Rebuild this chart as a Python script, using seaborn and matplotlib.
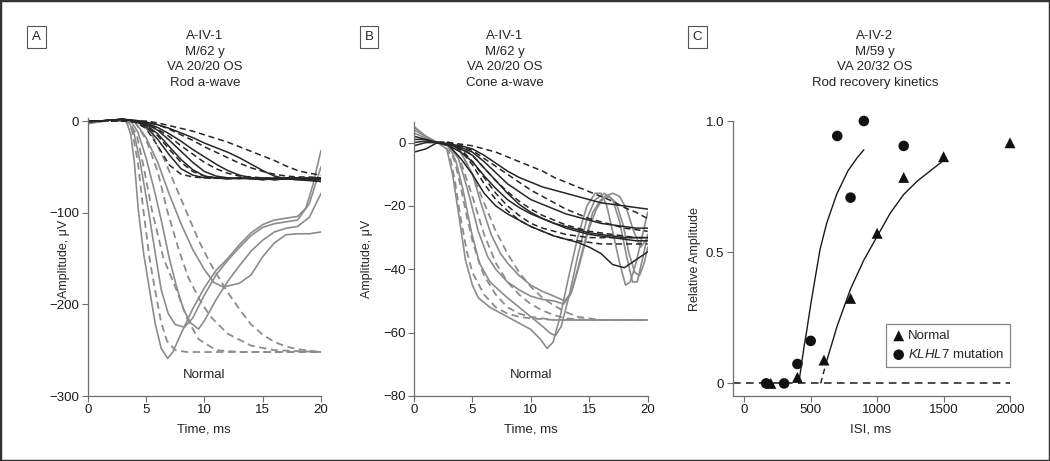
import matplotlib
matplotlib.use("Agg")
import matplotlib.pyplot as plt
from matplotlib import font_manager
from matplotlib.patches import Rectangle
import seaborn as sns

# ---------------- Panel A: rod a-wave, A-IV-1 ----------------
rod_t = list(range(21))
rod_fit_t = list(range(2, 21))
rod_mut = [
    [0, 0, 1, 2, 0, -6, -20, -37, -52, -59, -62, -62, -63, -62, -63, -64, -62, -63, -62, -63, -62],
    [-1, 0, 1, 2, 0, -4, -14, -28, -42, -53, -60, -62, -63, -62, -63, -62, -64, -63, -62, -64, -63],
    [0, 0, 1, 2, 0, -3, -10, -21, -33, -45, -55, -60, -62, -63, -62, -64, -63, -62, -63, -63, -64],
    [-1, 0, 1, 2, 0, -2, -7, -14, -22, -31, -39, -47, -54, -59, -62, -63, -64, -63, -64, -65, -66],
    [0, 0, 1, 2, 1, -1, -4, -8, -13, -18, -24, -29, -34, -40, -47, -54, -60, -63, -64, -64, -66],
]
rod_mut_fit = [
    [0, 0, -1, -8, -27, -48, -58, -61, -62, -62.5, -62.5, -62.5, -62.5, -62.5, -62.5, -62.5, -62.5, -62.5, -62.5],
    [0, 0, -1, -5, -16, -31, -45, -55, -60, -62, -62.5, -62.5, -62.5, -62.5, -62.5, -62.5, -62.5, -62.5, -62.5],
    [0, 0, 0, -3, -9, -17, -27, -36, -45, -52, -57, -60, -61, -62, -62, -62, -62, -62, -62],
    [0, 0, 0, -1, -4, -9, -15, -21, -28, -34, -40, -46, -51, -55, -58, -60, -61, -61, -62],
    [0, 0, 0, 0, -2, -5, -8, -11, -15, -19, -23, -28, -33, -38, -43, -49, -54, -57, -59],
]
rod_norm_t = [
    [0, 2, 3.3, 3.7, 4.0, 4.34, 4.8, 5.3, 5.8, 6.3, 6.85, 7.3, 8, 9, 10, 11, 12, 13, 14, 15, 16, 17, 18, 18.7, 19.3, 20],
    [0, 2, 3.5, 4.0, 4.5, 5.2, 5.8, 6.3, 6.9, 7.5, 8.3, 9, 10, 11, 12, 13, 14, 15, 16, 17, 18, 19, 20],
    [0, 2, 3.7, 4.3, 5.0, 5.7, 6.34, 7.0, 7.6, 8.2, 8.8, 9.5, 10, 11, 12, 13, 14, 15, 16, 17, 18, 19, 20],
    [0, 2, 4, 5, 6, 7, 8, 9, 10, 10.8, 11.6, 12, 13, 14, 15, 16, 17, 18, 19, 20],
]
rod_norm = [
    [-2, 1, 0, -15, -45, -97, -145, -184, -222, -248, -259, -252, -232, -205, -182, -163, -150, -135, -122, -113, -108, -106, -104, -95, -70, -32],
    [-3, 1, 0, -15, -45, -97, -145, -184, -210, -222, -225, -215, -190, -168, -152, -138, -125, -116, -112, -110, -108, -90, -50],
    [-1, 1, 0, -12, -40, -75, -110, -150, -180, -205, -220, -227, -218, -195, -175, -158, -142, -130, -121, -117, -115, -105, -79],
    [-2, 1, 0, -18, -45, -80, -112, -140, -162, -176, -181, -180, -177, -168, -148, -133, -124, -123, -123, -121],
]
rod_norm_fit_t = [
    [2, 3.3, 3.8, 4.3, 4.77, 5.3, 5.77, 6.3, 6.8, 7.5, 8.5, 20],
    [2, 3.5, 4.2, 4.8, 5.5, 6.5, 7.6, 8.5, 9.5, 11, 13, 20],
    [2, 4, 5, 6, 6.8, 7.8, 8.6, 9.6, 10.5, 12, 14, 16, 20],
    [2, 4.5, 5.5, 6.5, 7.5, 8.4, 9.5, 10.5, 11.9, 13, 14, 15, 16, 17, 18, 20],
]
rod_norm_fit = [
    [0, 0, -10, -45, -97, -150, -184, -220, -240, -250, -252, -252],
    [0, 0, -15, -50, -97, -150, -184, -215, -238, -250, -252, -252],
    [0, 0, -20, -55, -97, -140, -170, -195, -213, -232, -245, -250, -252],
    [0, 0, -15, -40, -70, -97, -130, -155, -185, -205, -222, -233, -241, -246, -249, -252],
]

# ---------------- Panel B: cone a-wave, A-IV-1 ----------------
cone_t = list(range(21))
cone_fit_t = list(range(2, 21))
cone_mut = [
    [1, 1, 0, -0.5, -1, -2, -4, -6.5, -9, -11, -12.5, -14, -15, -16, -17, -18, -19, -19.5, -20, -20.5, -21],
    [-1, 0, 0, -0.5, -1.5, -3, -6, -9.5, -13, -15.5, -18, -19.5, -21, -22.5, -23.5, -24.5, -25.5, -26, -26.5, -27, -27],
    [2, 1, 0, -1, -3, -6, -10.5, -14.5, -18, -20.5, -22.5, -24, -25.5, -26.5, -27.5, -28.5, -29, -29.5, -30, -30, -30],
    [-3, -2, 0, -1, -5, -10, -16, -20, -22.5, -24.5, -26.5, -28, -29.5, -30.5, -31.5, -33, -35, -38.5, -39.5, -37, -34.5],
    [0, 0.5, 0, -0.5, -2, -4, -8, -12, -16, -19.5, -22, -24, -25.5, -27, -28, -29, -29.5, -30, -30.5, -31, -31],
]
cone_mut_fit = [
    [0, 0, -0.5, -1, -2, -3, -4.5, -6, -7.5, -9, -11, -12.5, -14, -15.5, -17, -18.5, -20.5, -22, -24],
    [0, 0, -1, -2.5, -5, -7.5, -10, -12.5, -15, -17, -19, -21, -22.5, -24, -25, -26, -27, -27.5, -28],
    [0, 0, -1.5, -4, -8, -12, -15.5, -18.5, -21, -23, -24.5, -26, -27, -28, -28.5, -29, -29.5, -30, -30],
    [0, 0, -2, -6, -11, -16, -20, -23, -25.5, -27, -28, -29, -29.5, -30, -30, -30, -30, -30, -30],
    [0, 0, -2.5, -7, -13, -18, -21.5, -24.5, -26.5, -28, -29.5, -30.5, -31, -31.5, -32, -32, -32, -32, -32],
]
cone_norm_t = [
    [0, 1, 2, 2.8, 3.3, 3.8, 4.4, 5, 5.5, 6.5, 8, 9, 10, 10.8, 11.4, 11.9, 12.5, 13.2, 14, 14.8, 15.5, 16, 16.5, 17, 17.6, 18.1, 18.5, 19, 19.5, 20],
    [0, 1, 2, 3, 3.6, 4.2, 4.9, 5.6, 6.5, 8, 9, 10, 11, 11.6, 12.1, 12.6, 13.3, 14, 14.8, 15.5, 16.3, 17, 17.6, 18.2, 18.7, 19.1, 19.6, 20],
    [0, 1, 2, 3, 3.8, 4.6, 5.5, 6.3, 7, 8, 9, 10, 11, 12, 12.8, 13.4, 14, 14.7, 15.3, 16, 16.7, 17.3, 17.9, 18.4, 18.9, 19.3, 19.7, 20],
    [0, 1, 2, 3, 4, 5, 5.8, 6.6, 7.4, 8, 9, 10, 11, 12, 12.9, 13.5, 14.2, 14.9, 15.6, 16.3, 17, 17.6, 18.2, 18.8, 19.4, 20],
]
cone_norm = [
    [5, 2, 0, -2, -10, -22, -37, -45, -49, -52, -55, -57, -59, -62, -65, -63, -55, -43, -30, -20, -16, -16, -20, -28, -38, -45, -44, -38, -30, -22],
    [4, 2, 0, -1, -6, -15, -28, -38, -44, -49, -52, -55, -58, -60, -61, -58, -48, -36, -24, -18, -16, -18, -25, -36, -44, -44, -36, -29],
    [3, 1.5, 0, -1, -5, -15, -28, -36, -40, -44, -46.5, -48.5, -49.5, -50, -51, -48, -40, -30, -22, -18, -17, -19, -26, -35, -41, -42, -38, -33],
    [5, 2, 0, 0, -3, -10, -20, -29, -35, -38, -42, -45, -47, -48.5, -50, -47, -38, -28, -21, -17, -16, -17, -21, -28, -33, -30],
]
cone_norm_fit_t = [
    [2, 2.5, 3, 3.5, 4, 4.5, 5, 6, 7, 8, 9, 10, 12, 20],
    [2, 2.8, 3.5, 4, 4.5, 5, 5.5, 6, 7, 8, 9, 10, 12, 20],
    [2, 3, 4, 5, 6, 7, 8, 9, 10, 11, 12, 13, 15, 20],
    [2, 3, 4, 5, 6, 7, 8, 9, 10, 11, 12, 13, 14, 16, 20],
]
cone_norm_fit = [
    [0, 0, -3, -12, -24, -34, -41, -48, -52, -54, -55, -55.5, -56, -56],
    [0, 0, -6, -14, -23, -31, -37, -42, -48, -52, -54, -55, -56, -56],
    [0, 0, -6, -17, -29, -38, -44, -48, -51, -53, -54.5, -55.5, -56, -56],
    [0, 0, -3, -10, -19, -28, -35, -41, -45.5, -49, -51.5, -53.5, -55, -56, -56],
]

# ---------------- Panel C: rod recovery kinetics, A-IV-2 ----------------
isi_normal = [200, 400, 600, 800, 1000, 1200, 1500, 2000]
amp_normal = [0, 0.023, 0.089, 0.324, 0.572, 0.785, 0.864, 0.917]
isi_klhl7 = [165, 300, 400, 500, 700, 800, 900, 1200]
amp_klhl7 = [0, 0, 0.074, 0.162, 0.943, 0.708, 1.0, 0.905]
fit_normal_x = [620, 700, 800, 900, 1000, 1100, 1200, 1300, 1400, 1500]
fit_normal_y = [0.085, 0.22, 0.36, 0.47, 0.56, 0.65, 0.72, 0.77, 0.81, 0.85]
fit_normal_ext_x = [575, 620]
fit_normal_ext_y = [0.0, 0.085]
fit_klhl7_x = [410, 430, 450, 470, 500, 540, 570, 620, 695, 780, 850, 900]
fit_klhl7_y = [0.0, 0.07, 0.14, 0.20, 0.30, 0.42, 0.51, 0.61, 0.72, 0.81, 0.86, 0.89]

panel_letters = ["A", "B", "C"]
panel_titles = [
    "A-IV-1\nM/62 y\nVA 20/20 OS\nRod a-wave",
    "A-IV-1\nM/62 y\nVA 20/20 OS\nCone a-wave",
    "A-IV-2\nM/59 y\nVA 20/32 OS\nRod recovery kinetics",
]

# condensed face if it is there, otherwise the Arial-metric one
installed = {f.name for f in font_manager.fontManager.ttflist}
if "Liberation Sans Narrow" in installed:
    FONT, FS = "Liberation Sans Narrow", 10.8
else:
    FONT, FS = "Liberation Sans", 9.5

sns.set_style("ticks")
plt.rcParams["font.family"] = [FONT, "DejaVu Sans"]
plt.rcParams["mathtext.fontset"] = "custom"
plt.rcParams["mathtext.it"] = FONT + ":italic"
plt.rcParams["mathtext.rm"] = FONT
plt.rcParams["font.size"] = FS

DARK = "#262626"
GREY = "#8c8c8c"
SPINE = "#6f6f6f"
DASH = (0, (4, 2.5))

W, H = 1050, 461
fig = plt.figure(figsize=(10.5, 4.61), dpi=100)


def px_axes(x0, x1, y0, y1):
    return fig.add_axes([x0 / W, 1 - y1 / H, (x1 - x0) / W, (y1 - y0) / H])


def trace(ax, x, y, color, ls="-", lw=1.1):
    sns.lineplot(x=x, y=y, ax=ax, color=color, linestyle=ls, linewidth=lw,
                 estimator=None, sort=False, errorbar=None, legend=False)


def style(ax):
    sns.despine(ax=ax)
    for s in ["left", "bottom"]:
        ax.spines[s].set_color(SPINE)
        ax.spines[s].set_linewidth(0.9)
    ax.tick_params(direction="out", length=4, width=0.8, color=SPINE,
                   labelsize=FS, pad=2, labelcolor="#1a1a1a")
    ax.set_xlabel("")
    ax.set_ylabel("")


# Panel A
axA = px_axes(87.7, 321, 118.3, 396)
for t, v in zip(rod_norm_t, rod_norm):
    trace(axA, t, v, GREY, lw=1.2)
for t, v in zip(rod_norm_fit_t, rod_norm_fit):
    trace(axA, t, v, GREY, ls=DASH, lw=1.3)
for v in rod_mut:
    trace(axA, rod_t, v, DARK)
for v in rod_mut_fit:
    trace(axA, rod_fit_t, v, DARK, ls=DASH)
axA.set_xlim(0, 20)
axA.set_ylim(-300, 3)
axA.set_xticks([0, 5, 10, 15, 20])
axA.set_yticks([0, -100, -200, -300])
style(axA)
axA.text(10, -277, "Normal", ha="center", va="center", fontsize=FS)

# Panel B
axB = px_axes(414, 647.7, 121.7, 396)
for t, v in zip(cone_norm_t, cone_norm):
    trace(axB, t, v, GREY, lw=1.2)
for t, v in zip(cone_norm_fit_t, cone_norm_fit):
    trace(axB, t, v, GREY, ls=DASH, lw=1.3)
for v in cone_mut:
    trace(axB, cone_t, v, DARK)
for v in cone_mut_fit:
    trace(axB, cone_fit_t, v, DARK, ls=DASH)
axB.set_xlim(0, 20)
axB.set_ylim(-80, 6.6)
axB.set_xticks([0, 5, 10, 15, 20])
axB.set_yticks([0, -20, -40, -60, -80])
style(axB)
axB.text(10, -73.4, "Normal", ha="center", va="center", fontsize=FS)

# Panel C
axC = px_axes(732.7, 1010, 121, 396)
axC.axhline(0, color="#1a1a1a", lw=1.1, ls=(0, (5, 3.5)), zorder=1)
trace(axC, fit_klhl7_x, fit_klhl7_y, "#1a1a1a", lw=1.0)
trace(axC, fit_normal_x, fit_normal_y, "#1a1a1a", lw=1.0)
trace(axC, fit_normal_ext_x, fit_normal_ext_y, "#1a1a1a", ls=(0, (4, 3)), lw=1.0)
sns.scatterplot(x=isi_normal, y=amp_normal, ax=axC, marker="^", s=62,
                color="#111111", edgecolor="none", clip_on=False, zorder=3,
                label="Normal")
sns.scatterplot(x=isi_klhl7, y=amp_klhl7, ax=axC, marker="o", s=58,
                color="#111111", edgecolor="none", clip_on=False, zorder=3,
                label=r"$\it{KLHL7}$ mutation")
axC.set_xlim(-87, 2000)
axC.set_ylim(-0.048, 1.0)
axC.set_xticks([0, 500, 1000, 1500, 2000])
axC.set_yticks([0, 0.5, 1.0])
axC.set_yticklabels(["0", "0.5", "1.0"])
style(axC)
leg = axC.legend(loc="lower right", bbox_to_anchor=(1.0, 0.105), borderaxespad=0,
                 frameon=True, fancybox=False, fontsize=FS, handletextpad=0.2,
                 borderpad=0.45, labelspacing=0.45, handlelength=1.0)
leg.get_frame().set_edgecolor("#666666")
leg.get_frame().set_linewidth(0.9)

# axis labels (the rod one sits between the -100 and -200 tick labels)
for x, txt in [(64, "Amplitude, \u03bcV"), (367, "Amplitude, \u03bcV"), (695, "Relative Amplitude")]:
    fig.text(x / W, 1 - 259 / H, txt, rotation=90, ha="center", va="center", fontsize=FS - 0.5)
for x, txt in [(204, "Time, ms"), (531, "Time, ms"), (871, "ISI, ms")]:
    fig.text(x / W, 1 - 429 / H, txt, ha="center", va="center", fontsize=FS)

# panel letters and titles
spacing = 17.7 / (0.93 * FS * 100 / 72)
for x, letter in zip([36.5, 369, 697.5], panel_letters):
    fig.text(x / W, 1 - 37 / H, letter, ha="center", va="center", fontsize=FS,
             bbox=dict(boxstyle="square,pad=0.38", fc="white", ec="#555555", lw=0.8))
for x, title in zip([205, 505, 875], panel_titles):
    fig.text(x / W, 1 - 59.5 / H, title, ha="center", va="center", fontsize=FS,
             linespacing=spacing, multialignment="center")

fig.patches.append(Rectangle((0, 0), 1, 1, transform=fig.transFigure, fill=False,
                             lw=2.5, ec="#333333"))

fig.savefig("out.png", dpi=100)
